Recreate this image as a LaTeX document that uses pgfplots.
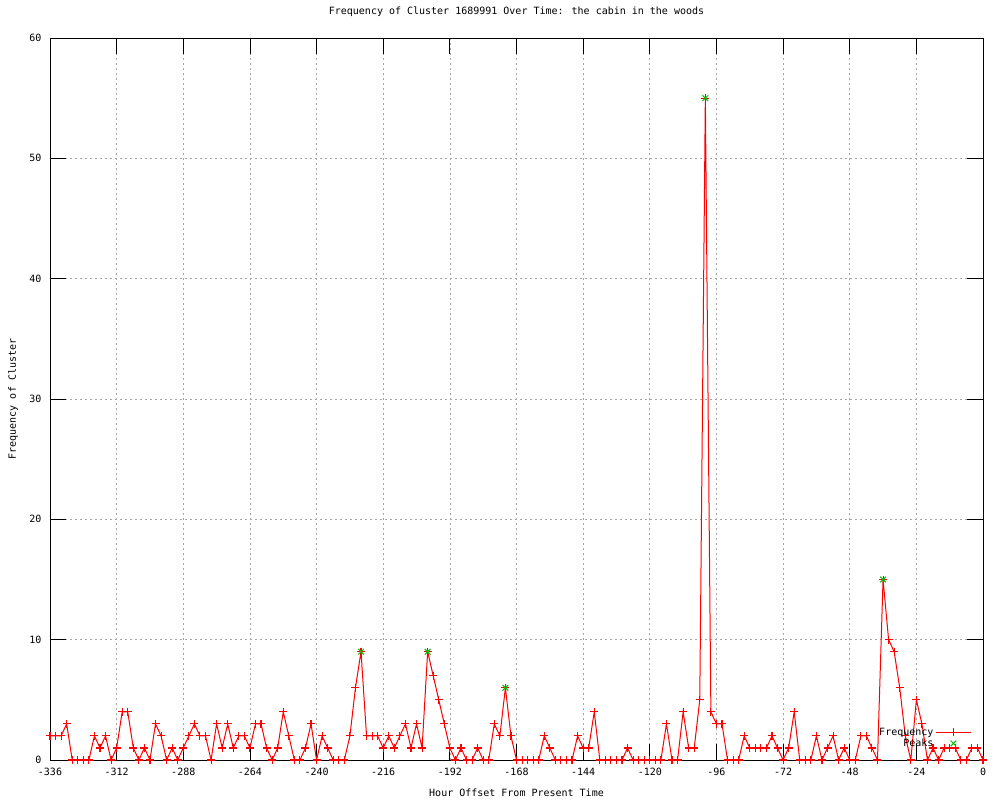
\documentclass[border=0pt]{standalone}
\usepackage{pgfplots}
\pgfplotsset{compat=1.18}
\usepackage{fontspec}
\setmainfont{DejaVu Sans Mono}
\definecolor{gpgreen}{RGB}{0,192,0}
\definecolor{gpred}{RGB}{255,0,0}
\pgfplotstableread{
h v
-336 2
-334 2
-332 2
-330 3
-328 0
-326 0
-324 0
-322 0
-320 2
-318 1
-316 2
-314 0
-312 1
-310 4
-308 4
-306 1
-304 0
-302 1
-300 0
-298 3
-296 2
-294 0
-292 1
-290 0
-288 1
-286 2
-284 3
-282 2
-280 2
-278 0
-276 3
-274 1
-272 3
-270 1
-268 2
-266 2
-264 1
-262 3
-260 3
-258 1
-256 0
-254 1
-252 4
-250 2
-248 0
-246 0
-244 1
-242 3
-240 0
-238 2
-236 1
-234 0
-232 0
-230 0
-228 2
-226 6
-224 9
-222 2
-220 2
-218 2
-216 1
-214 2
-212 1
-210 2
-208 3
-206 1
-204 3
-202 1
-200 9
-198 7
-196 5
-194 3
-192 1
-190 0
-188 1
-186 0
-184 0
-182 1
-180 0
-178 0
-176 3
-174 2
-172 6
-170 2
-168 0
-166 0
-164 0
-162 0
-160 0
-158 2
-156 1
-154 0
-152 0
-150 0
-148 0
-146 2
-144 1
-142 1
-140 4
-138 0
-136 0
-134 0
-132 0
-130 0
-128 1
-126 0
-124 0
-122 0
-120 0
-118 0
-116 0
-114 3
-112 0
-110 0
-108 4
-106 1
-104 1
-102 5
-100 55
-98 4
-96 3
-94 3
-92 0
-90 0
-88 0
-86 2
-84 1
-82 1
-80 1
-78 1
-76 2
-74 1
-72 0
-70 1
-68 4
-66 0
-64 0
-62 0
-60 2
-58 0
-56 1
-54 2
-52 0
-50 1
-48 0
-46 0
-44 2
-42 2
-40 1
-38 0
-36 15
-34 10
-32 9
-30 6
-28 2
-26 0
-24 5
-22 3
-20 0
-18 1
-16 0
-14 1
-12 1
-10 1
-8 0
-6 0
-4 1
-2 1
0 0
}\freqdata
\pgfplotstableread{
h v
-224 9
-200 9
-172 6
-100 55
-36 15
}\peakdata
\begin{document}
\begin{tikzpicture}
\begin{axis}[
  at={(0pt,0pt)}, anchor=south west,
  scale only axis, width=933pt, height=722pt,
  xmin=-336, xmax=0, ymin=0, ymax=60,
  xtick={-336,-312,...,0},
  xticklabels={{-336},{-312},{-288},{-264},{-240},{-216},{-192},{-168},{-144},{-120},{-96},{-72},{-48},{-24},{0}},
  ytick={0,10,...,60},
  yticklabels={{0},{10},{20},{30},{40},{50},{60}},
  tick align=inside, major tick length=16pt,
  tick style={black, line width=0.8pt},
  axis line style={black, line width=0.9pt},
  grid=major,
  major grid style={gray!70, line width=0.7pt, dash pattern=on 2pt off 3pt},
  ticklabel style={font=\fontsize{10}{12}\selectfont},
  yticklabel style={xshift=-5pt},
  xticklabel style={yshift=-5pt},
  title={Frequency of Cluster 1689991 Over Time: the cabin in the woods},
  title style={at={(axis description cs:0.5,1)}, anchor=center, yshift=20pt, font=\fontsize{10}{12}\selectfont},
  xlabel={Hour Offset From Present Time},
  xlabel style={at={(axis description cs:0.5,0)}, anchor=center, yshift=-33pt, font=\fontsize{10}{12}\selectfont},
  ylabel={Frequency of Cluster},
  ylabel style={at={(axis description cs:0,0.5)}, anchor=center, yshift=37pt, font=\fontsize{10}{12}\selectfont},
  clip=false,
  legend plot pos=right,
  legend cell align=right,
  legend image code/.code={\draw[mark repeat=2,mark phase=2,#1] plot coordinates {(0pt,0pt) (17.5pt,0pt) (35pt,0pt)};},
  legend style={at={(axis description cs:0.991,0.05)}, anchor=north east, draw=none, fill=none,
    font=\fontsize{10}{12}\selectfont, row sep=-2pt, nodes={inner sep=2pt}},
]
\addplot[color=gpred, line width=1pt, mark=+, mark size=4pt, mark options={solid, draw=gpred, line width=1.1pt}] table[x=h, y=v] {\freqdata};
\addlegendentry{Frequency}
\addplot[only marks, color=gpgreen, mark=x, mark size=4pt, mark options={draw=gpgreen, line width=1pt}] table[x=h, y=v] {\peakdata};
\addlegendentry{Peaks}
\end{axis}
\pgfresetboundingbox
\useasboundingbox (-50pt,-40pt) rectangle (950pt,760pt);
\end{tikzpicture}
\end{document}
